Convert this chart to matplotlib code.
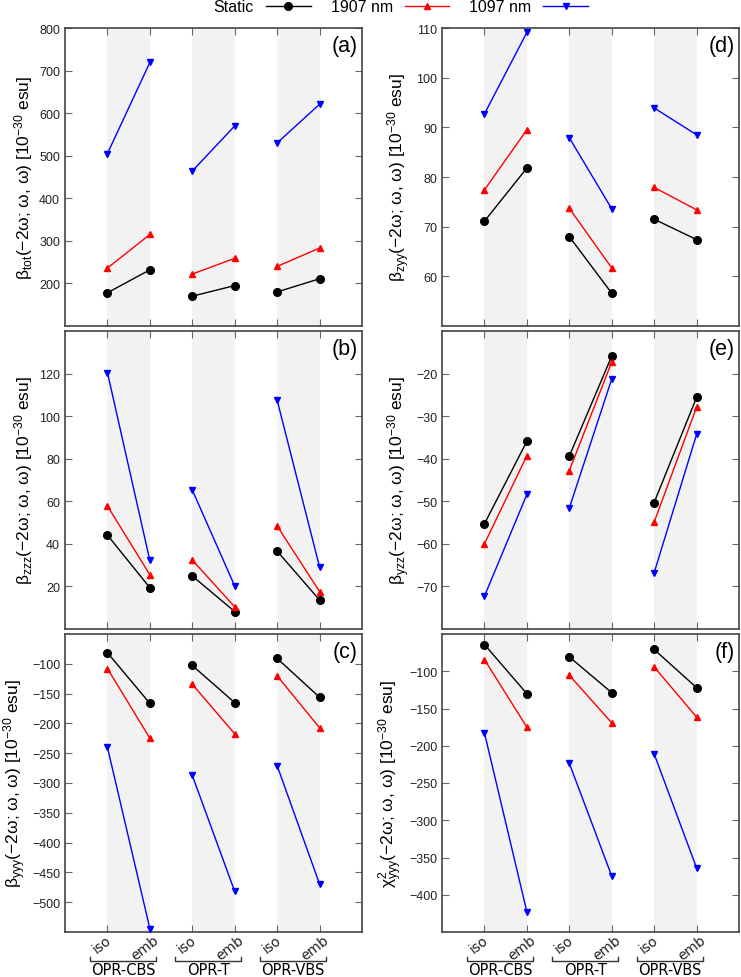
import matplotlib
matplotlib.use("Agg")
import matplotlib.pyplot as plt
import matplotlib.transforms as mtransforms
from matplotlib.lines import Line2D

plt.rcParams['font.family'] = ['Liberation Sans', 'DejaVu Sans']
plt.rcParams['mathtext.fontset'] = 'custom'
plt.rcParams['mathtext.rm'] = 'Liberation Sans'
plt.rcParams['mathtext.it'] = 'Liberation Sans:italic'

# x categories: iso/emb for each model
x_pos = [1, 2, 3, 4, 5, 6]
x_labels = ["iso", "emb", "iso", "emb", "iso", "emb"]
groups = ["OPR-CBS", "OPR-T", "OPR-VBS"]
series_names = ["Static", "1907 nm", "1097 nm"]

# (a) beta_tot
static_a = [178, 232, 170, 195, 180, 211]
nm1907_a = [236, 315, 222, 259, 240, 283]
nm1097_a = [505, 719, 464, 570, 530, 621]
# (b) beta_zzz
static_b = [44.1, 19.4, 24.9, 8.2, 36.6, 13.6]
nm1907_b = [57.8, 25.5, 32.4, 10.4, 48.4, 17.6]
nm1097_b = [120.5, 32.2, 65.3, 20.2, 107.5, 29.1]
# (c) beta_yyy
static_c = [-81.4, -166.4, -102.8, -165.2, -91.0, -156.2]
nm1907_c = [-107.9, -224.9, -134.3, -217.5, -120.2, -207.4]
nm1097_c = [-240.0, -544.3, -287.3, -481.9, -271.0, -469.5]
# (d) beta_zyy
static_d = [71.1, 81.8, 68.0, 56.6, 71.5, 67.4]
nm1907_d = [77.4, 89.5, 73.7, 61.7, 77.9, 73.4]
nm1097_d = [92.7, 109.1, 87.9, 73.6, 93.9, 88.5]
# (e) beta_yzz
static_e = [-55.3, -35.9, -39.4, -15.9, -50.3, -25.6]
nm1907_e = [-60.0, -39.3, -42.8, -17.3, -54.9, -27.9]
nm1097_e = [-72.3, -48.4, -51.6, -21.3, -66.8, -34.3]
# (f) chi2_yyy
static_f = [-64.1, -130.1, -80.7, -128.7, -70.8, -122.0]
nm1907_f = [-84.3, -175.0, -105.4, -169.2, -94.2, -161.5]
nm1097_f = [-182.6, -422.9, -223.5, -374.8, -210.9, -364.0]

tail = "(\u22122\u03c9; \u03c9, \u03c9) [10$^{\u221230}$ esu]"
ylabels = {
    "a": "\u03b2$_{\\mathrm{tot}}$" + tail,
    "b": "\u03b2$_{\\mathrm{zzz}}$" + tail,
    "c": "\u03b2$_{\\mathrm{yyy}}$" + tail,
    "d": "\u03b2$_{\\mathrm{zyy}}$" + tail,
    "e": "\u03b2$_{\\mathrm{yzz}}$" + tail,
    "f": "\u03c7$^{2}_{\\mathrm{yyy}}$" + tail,
}
panel_data = {
    "a": (static_a, nm1907_a, nm1097_a, (100, 800), range(200, 801, 100)),
    "b": (static_b, nm1907_b, nm1097_b, (0, 140), range(20, 121, 20)),
    "c": (static_c, nm1907_c, nm1097_c, (-550, -50), range(-500, -99, 50)),
    "d": (static_d, nm1907_d, nm1097_d, (50, 110), range(60, 111, 10)),
    "e": (static_e, nm1907_e, nm1097_e, (-80, -10), range(-70, -19, 10)),
    "f": (static_f, nm1907_f, nm1097_f, (-450, -50), range(-400, -99, 50)),
}

styles = [dict(color="black", marker="o", ms=5.5),
          dict(color="red", marker="^", ms=4.5),
          dict(color="blue", marker="v", ms=4.5)]
spine_c = "#444444"

fig = plt.figure(figsize=(7.41, 9.78), dpi=100)
W, H = 741.0, 978.0
lefts = [65 / W, 442 / W]
width = 297 / W
tops = [29, 332, 635]
height = 298 / H

order = [["a", "b", "c"], ["d", "e", "f"]]
for col in range(2):
    for row in range(3):
        key = order[col][row]
        ax = fig.add_axes([lefts[col], 1 - (tops[row] + 298) / H, width, height])
        s0, s1, s2, ylim, yt = panel_data[key]
        for g in range(3):
            ax.axvspan(x_pos[2 * g], x_pos[2 * g + 1], color="#f2f2f2", lw=0, zorder=0)
        for vals, st in zip([s0, s1, s2], styles):
            for g in range(3):
                ax.plot(x_pos[2 * g:2 * g + 2], vals[2 * g:2 * g + 2], lw=1.0,
                        clip_on=False, zorder=3, **st)
        ax.set_xlim(0, 7)
        ax.set_ylim(*ylim)
        ax.set_yticks(list(yt))
        ax.set_xticks(x_pos)
        ax.tick_params(direction="in", top=True, right=True, length=5,
                       color="#666666", labelsize=9, labelcolor="#222222", width=0.8)
        for sp in ax.spines.values():
            sp.set_color(spine_c)
            sp.set_linewidth(1.2)
        ax.set_ylabel(ylabels[key], fontsize=12.5, labelpad=3)
        ax.text(0.985, 0.978, "(%s)" % key, transform=ax.transAxes, ha="right",
                va="top", fontsize=15.5)
        if row == 2:
            ax.set_xticklabels(x_labels, rotation=38, ha="center", va="top",
                               fontsize=10, family="DejaVu Sans", color="#222222")
            ax.tick_params(axis="x", pad=0.5)
            shift = mtransforms.ScaledTranslation(-5 / 100, 0, fig.dpi_scale_trans)
            for lab in ax.get_xticklabels():
                lab.set_transform(lab.get_transform() + shift)
            tr = mtransforms.blended_transform_factory(ax.transData, ax.transAxes)
            for g, name in enumerate(groups):
                c = 1.5 + 2 * g
                ax.add_line(Line2D([c - 0.9, c - 0.9, c + 0.65, c + 0.65],
                                   [-0.084, -0.097, -0.097, -0.084], transform=tr,
                                   color="#333333", lw=1.0, clip_on=False))
                ax.text(c - 0.12, -0.140, name, transform=tr, ha="center",
                        va="baseline", fontsize=10.5, family="DejaVu Sans")
        else:
            ax.set_xticklabels([])

handles = [Line2D([], [], lw=1.0, **st) for st in styles]
fig.legend(handles, series_names, loc="center", bbox_to_anchor=(0.541, 0.992),
           ncol=3, frameon=False, markerfirst=False, fontsize=11.5,
           handlelength=2.8, handletextpad=0.75, columnspacing=1.25)

fig.savefig("out.png", dpi=100)
